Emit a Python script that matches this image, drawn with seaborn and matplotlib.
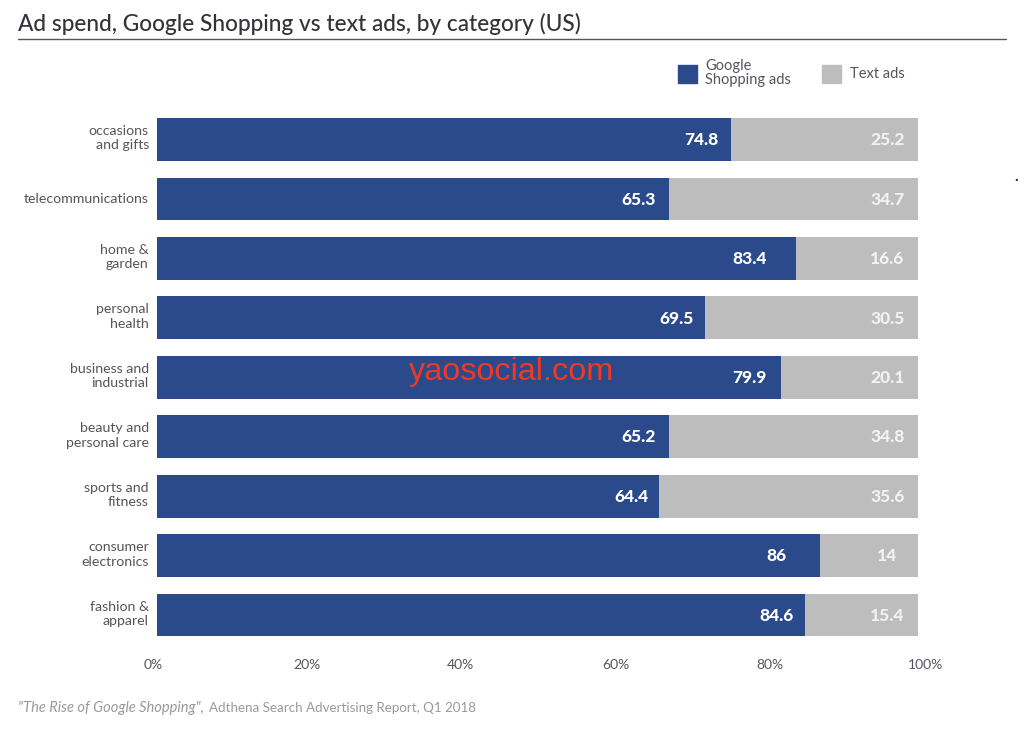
import matplotlib
matplotlib.use('Agg')
import matplotlib.pyplot as plt
from matplotlib.patches import Patch
from matplotlib.lines import Line2D
from matplotlib.transforms import ScaledTranslation
import pandas as pd
import seaborn as sns

categories = ['occasions\nand gifts', 'telecommunications', 'home &\ngarden', 'personal\nhealth',
              'business and\nindustrial', 'beauty and\npersonal care', 'sports and\nfitness',
              'consumer\nelectronics', 'fashion &\napparel']
# printed values
shopping_labels = ['74.8', '65.3', '83.4', '69.5', '79.9', '65.2', '64.4', '86', '84.6']
text_labels = ['25.2', '34.7', '16.6', '30.5', '20.1', '34.8', '35.6', '14', '15.4']
# bar lengths as drawn in the picture, they differ a bit from the printed values
shopping_drawn = [75.4, 67.3, 84.0, 72.0, 82.0, 67.3, 66.0, 87.1, 85.1]
total_drawn = [100, 100, 100, 100, 100, 100, 100, 100, 100]
tick_labels = ['0%', '20%', '40%', '60%', '80%', '100%']

BLUE = '#2b4a8c'
GREY = '#bdbdbd'
TEXT = '#55555b'

sns.set_theme(style='white')
plt.rcParams['font.family'] = ['Lato', 'DejaVu Sans']

W, H = 1024, 743
fig = plt.figure(figsize=(W / 100, H / 100), dpi=100)
# axes span 153..925 px so the tick labels fall where the picture has them
ax = fig.add_axes([153 / W, 1 - 644.75 / H, 772 / W, (644.75 - 109.75) / H])

df = pd.DataFrame({'category': categories, 'shopping': shopping_drawn, 'total': total_drawn})
sns.barplot(data=df, x='total', y='category', color=GREY, saturation=1, width=0.72, linewidth=0, ax=ax)
sns.barplot(data=df, x='shopping', y='category', color=BLUE, saturation=1, width=0.72, linewidth=0, ax=ax)

ax.set_xlim(-0.53, 100.92)
ax.set_ylim(8.5, -0.5)
ax.set_xlabel('')
ax.set_ylabel('')
sns.despine(ax=ax, left=True, bottom=True, top=True, right=True)

ax.set_xticks([-0.53, 19.7, 39.9, 60.3, 80.55, 100.92])
ax.set_xticklabels(tick_labels, fontsize=10, color=TEXT)
ax.tick_params(axis='x', length=0, pad=10)
ax.tick_params(axis='y', length=0, pad=3)
for lab in ax.get_yticklabels():
    lab.set_fontsize(10.2)
    lab.set_color(TEXT)
    lab.set_linespacing(1.25)
    # labels sit a little above the bar centre in the picture
    shift = 3.5 if '\n' in lab.get_text() else 1
    lab.set_transform(lab.get_transform() + ScaledTranslation(0, shift / 100, fig.dpi_scale_trans))

# distance of each value label from the end of its segment, pixels
shop_gap = [29, 30.5, 46.5, 28, 31.5, 30.5, 27.5, 43, 28]
for i in range(len(categories)):
    ax.annotate(shopping_labels[i], (shopping_drawn[i], i), xytext=(-shop_gap[i] * 0.72, -0.5),
                textcoords='offset points', ha='center', va='center',
                color='white', fontsize=12.5, fontweight='black')
    ax.annotate(text_labels[i], (total_drawn[i], i), xytext=(-30.5 * 0.72, -0.5),
                textcoords='offset points', ha='center', va='center',
                color='#f2f2f2', fontsize=12.5, fontweight='black')

handles = [Patch(color=BLUE, label='Google\nShopping ads'), Patch(color=GREY, label='Text ads')]
leg = fig.legend(handles=handles, ncol=2, frameon=False, fontsize=10.5, loc='center left',
                 bbox_to_anchor=(666 / W, 1 - 73 / H), handlelength=1.3, handleheight=1.5,
                 handletextpad=0.6, columnspacing=2.1, labelcolor=TEXT, borderpad=0.3)
for t in leg.get_texts():
    t.set_linespacing(1.05)

fig.text(18 / W, 1 - 24 / H, 'Ad spend, Google Shopping vs text ads, by category (US)',
         fontsize=16.3, fontweight='medium', color='#33333a', va='center')
fig.add_artist(Line2D([18 / W, 1006 / W], [1 - 38.5 / H] * 2, color='#555555', lw=1))

fig.text(18 / W, 1 - 708 / H, '"The Rise of Google Shopping",', fontsize=10.5, style='italic',
         color='#9a9a9a', va='center')
fig.text(209 / W, 1 - 708 / H, 'Adthena Search Advertising Report, Q1 2018', fontsize=9.65,
         color='#9a9a9a', va='center')

fig.text(512 / W, 1 - 372 / H, 'yaosocial.com', fontsize=23.3, color='#ee3a24', ha='center', va='center',
         family=['Liberation Sans', 'DejaVu Sans'])
fig.text(1016 / W, 1 - 181 / H, '.', fontsize=11, fontweight='bold', color='#222222', ha='center', va='baseline')

fig.savefig('out.png', dpi=100)
